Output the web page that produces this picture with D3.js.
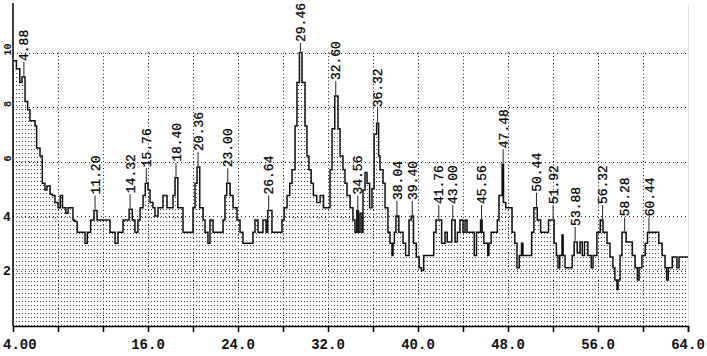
<!DOCTYPE html>
<html>
<head>
<meta charset="utf-8">
<script src="https://cdn.jsdelivr.net/npm/d3@7"></script>
<style>
  html, body { margin: 0; padding: 0; background: #fff; }
  svg { display: block; }
</style>
</head>
<body>
<svg id="chart" width="707" height="356"></svg>
<script>
// Diffractogram scan: [2-theta, intensity] steps
const scan = [
  [4.0, 9.7], [4.3, 9.4], [4.6, 8.9], [4.8, 9.1], [5.07, 8.2], [5.3, 7.9], [5.51, 7.5], [5.96, 7.3], [6.1, 6.5], [6.4, 6.2],
  [6.6, 5.2], [6.84, 4.95], [7.02, 5.1], [7.3, 4.8], [7.5, 4.75], [7.73, 4.5], [8.0, 4.3], [8.2, 4.75], [8.4, 4.3], [8.7, 4.1],
  [8.9, 4.3], [9.33, 3.85], [9.5, 3.8], [9.7, 3.4], [10.4, 3.0], [10.6, 3.4], [10.9, 3.85], [11.2, 4.2], [11.47, 3.85], [12.62, 3.4],
  [13.07, 3.0], [13.33, 3.4], [13.78, 3.85], [14.32, 4.25], [14.6, 3.85], [14.84, 3.4], [15.1, 3.85], [15.3, 4.3], [15.56, 4.75], [15.76, 5.2],
  [16.0, 4.95], [16.18, 4.5], [16.44, 4.3], [16.62, 4.0], [16.89, 4.3], [17.33, 4.75], [17.69, 4.3], [18.22, 4.75], [18.4, 5.4], [18.65, 4.3],
  [19.11, 3.4], [20.0, 4.3], [20.18, 5.2], [20.36, 5.8], [20.6, 4.3], [20.9, 3.85], [21.07, 3.4], [21.33, 3.0], [21.51, 3.85], [21.78, 3.4],
  [22.67, 3.85], [22.84, 4.75], [23.0, 5.2], [23.3, 4.75], [23.56, 4.3], [23.91, 3.85], [24.18, 3.4], [24.44, 3.0], [25.33, 3.4], [25.51, 3.85],
  [25.78, 3.4], [26.22, 3.85], [26.5, 3.4], [26.64, 4.2], [27.02, 3.4], [27.91, 3.85], [28.1, 4.3], [28.36, 4.75], [28.6, 5.2], [28.8, 5.7],
  [29.07, 7.3], [29.24, 8.9], [29.46, 10.0], [29.69, 8.9], [29.96, 7.3], [30.13, 6.2], [30.3, 5.7], [30.5, 5.2], [30.7, 4.75], [31.0, 4.5],
  [31.3, 4.75], [31.6, 4.3], [32.18, 5.7], [32.36, 7.2], [32.6, 8.4], [32.89, 7.2], [33.07, 6.2], [33.33, 5.7], [33.51, 5.2], [33.69, 4.75],
  [33.96, 4.3], [34.22, 3.85], [34.4, 3.4], [34.56, 4.2], [34.7, 3.4], [34.85, 4.1], [35.02, 3.4], [35.11, 4.95], [35.29, 5.6], [35.47, 5.2],
  [35.7, 4.3], [35.91, 5.0], [36.1, 7.0], [36.32, 7.4], [36.5, 6.2], [36.62, 5.7], [36.89, 5.2], [37.07, 4.3], [37.33, 3.4], [37.51, 3.0],
  [37.69, 2.55], [37.78, 3.0], [37.9, 3.4], [38.04, 4.0], [38.3, 3.4], [38.67, 3.0], [38.9, 2.55], [39.2, 3.85], [39.4, 4.0], [39.6, 3.0],
  [39.85, 2.5], [40.1, 2.1], [40.3, 2.0], [40.5, 2.55], [41.4, 3.4], [41.6, 3.85], [42.1, 3.0], [42.4, 3.4], [42.6, 3.05], [43.0, 3.85],
  [43.3, 3.05], [43.5, 3.4], [43.73, 3.85], [44.0, 3.4], [44.18, 3.85], [44.36, 3.4], [45.0, 2.55], [45.2, 3.4], [45.56, 3.85], [45.7, 3.4],
  [45.85, 3.0], [46.2, 2.55], [46.3, 3.0], [46.5, 3.4], [47.05, 3.85], [47.2, 4.75], [47.48, 5.9], [47.6, 4.5], [47.8, 4.3], [48.36, 3.4],
  [48.6, 3.0], [48.8, 2.1], [49.0, 2.55], [49.2, 3.0], [49.33, 2.55], [50.1, 3.4], [50.3, 4.3], [50.6, 3.85], [50.9, 3.4], [51.6, 3.85],
  [52.1, 3.0], [52.3, 2.55], [52.44, 2.1], [52.6, 2.55], [52.8, 3.3], [52.9, 2.55], [53.07, 2.1], [53.7, 2.55], [53.88, 3.05], [54.15, 2.65],
  [54.4, 3.05], [54.6, 2.55], [54.8, 3.05], [55.1, 2.55], [55.4, 2.1], [55.56, 2.55], [55.9, 3.4], [56.2, 3.85], [56.44, 3.4], [56.8, 3.0],
  [57.07, 2.5], [57.33, 2.1], [57.5, 1.65], [57.69, 1.3], [57.78, 1.65], [57.96, 2.55], [58.13, 3.4], [58.5, 3.05], [59.05, 2.55], [59.3, 2.1],
  [59.5, 1.65], [59.65, 2.1], [59.9, 2.55], [60.2, 3.0], [60.4, 3.4], [61.4, 3.0], [61.7, 2.55], [61.96, 2.1], [62.1, 1.65], [62.25, 2.1],
  [62.6, 2.5], [63.02, 2.1], [63.2, 2.5], [64.0, 2.5]
];

// Labelled reflections (2-theta)
const peakAngles = [4.88, 11.20, 14.32, 15.76, 18.40, 20.36, 23.00, 26.64, 29.46, 32.60, 34.56, 36.32,
                    38.04, 39.40, 41.76, 43.00, 45.56, 47.48, 50.44, 51.92, 53.88, 56.32, 58.28, 60.44];

// Axis ticks
const xTickValues = [8, 12, 16, 20, 24, 28, 32, 36, 40, 44, 48, 52, 56, 60, 64];
const xLabelValues = [4, 16, 24, 32, 40, 48, 56, 64];
const xLabelTexts = ["4.00", "16.0", "24.0", "32.0", "40.0", "48.0", "56.0", "64.0"];
const yTickValues = [2, 4, 6, 8, 10];
const yTickLabels = ["2", "4", "6", "8", "10"];

const svg = d3.select("#chart");
const mono = "'Liberation Mono', 'DejaVu Sans Mono', monospace";

const x = d3.scaleLinear().domain([4, 64]).range([13, 688]);
const y = d3.scaleLinear().domain([0, 10]).range([325, 52.5]);
const baseY = 326;

// dot fill pattern under the trace
const defs = svg.append("defs");
defs.append("pattern")
  .attr("id", "dots").attr("patternUnits", "userSpaceOnUse")
  .attr("width", 3).attr("height", 4)
  .append("rect").attr("x", 1).attr("y", 1).attr("width", 1).attr("height", 1)
  .attr("fill", "#444");

// grid
const grid = svg.append("g");
grid.selectAll("line.h").data(yTickValues).join("line")
  .attr("x1", x(4)).attr("x2", x(64))
  .attr("y1", d => Math.round(y(d)) + 0.5).attr("y2", d => Math.round(y(d)) + 0.5)
  .attr("stroke", "#222").attr("stroke-width", 1).attr("stroke-dasharray", "1,3");
grid.selectAll("line.v").data(xTickValues.filter(v => v < 64)).join("line")
  .attr("x1", d => Math.round(x(d)) + 0.5).attr("x2", d => Math.round(x(d)) + 0.5)
  .attr("y1", y(10)).attr("y2", baseY)
  .attr("stroke", "#222").attr("stroke-width", 1).attr("stroke-dasharray", "1,2.5");

// right frame edge
svg.append("line")
  .attr("x1", x(64) + 0.5).attr("x2", x(64) + 0.5).attr("y1", 5).attr("y2", baseY)
  .attr("stroke", "#ddd").attr("stroke-width", 1);

// filled region under the trace
const area = d3.area()
  .x(d => x(d[0])).y0(baseY).y1(d => y(d[1]))
  .curve(d3.curveStepAfter);
svg.append("path").datum(scan)
  .attr("d", area).attr("fill", "url(#dots)");

// the trace
const line = d3.line()
  .x(d => x(d[0])).y(d => y(d[1]))
  .curve(d3.curveStepAfter);
svg.append("path").datum(scan)
  .attr("d", line).attr("fill", "none")
  .attr("stroke", "#111").attr("stroke-width", 1.5);

// peak annotations
const bis = d3.bisector(d => d[0]).right;
const charW = 7.8;
const pk = svg.append("g");
peakAngles.forEach(a => {
  const i = Math.max(0, bis(scan, a + 1e-9) - 1);
  const v = scan[i][1];
  const px = x(a) + 1;
  const py = y(v);
  const txt = a.toFixed(2);
  const len = txt.length * charW;
  let start = py - 16;
  if (start - len < 3) start = 3 + len;
  pk.append("line")
    .attr("x1", px).attr("x2", px).attr("y1", py - 1).attr("y2", start + 1)
    .attr("stroke", "#222").attr("stroke-width", 1);
  pk.append("text")
    .attr("transform", `translate(${px},${start}) rotate(-90)`)
    .attr("dy", "0.35em")
    .attr("text-anchor", "start")
    .attr("font-family", mono).attr("font-size", 13)
    .attr("fill", "#000")
    .attr("stroke", "#000").attr("stroke-width", 0.25)
    .text(txt);
});

// x axis
const xAxis = d3.axisBottom(x)
  .tickValues(xTickValues)
  .tickSize(6)
  .tickFormat("");
const gx = svg.append("g").attr("transform", `translate(0,${baseY})`).call(xAxis);
gx.select(".domain").attr("stroke", "#000").attr("stroke-width", 1.5);
gx.selectAll(".tick line").attr("stroke", "#000").attr("stroke-width", 1.5);

svg.append("g").selectAll("text").data(xLabelValues).join("text")
  .attr("x", (d, i) => i === 0 ? 3 : x(d))
  .attr("y", 349)
  .attr("text-anchor", (d, i) => i === 0 ? "start" : "middle")
  .attr("font-family", mono).attr("font-size", 14).attr("font-weight", "bold")
  .attr("fill", "#111")
  .text((d, i) => xLabelTexts[i]);

// y axis
svg.append("line")
  .attr("x1", 13).attr("x2", 13).attr("y1", 3).attr("y2", baseY)
  .attr("stroke", "#000").attr("stroke-width", 1.5);

svg.append("g").selectAll("text").data(yTickValues).join("text")
  .attr("transform", d => d >= 6 ? `translate(7,${y(d) - 3}) rotate(-90)` : `translate(7,${y(d)})`)
  .attr("dy", "0.35em")
  .attr("text-anchor", "middle")
  .attr("font-family", mono).attr("font-weight", "bold")
  .attr("font-size", d => d >= 6 ? 10 : 13)
  .attr("fill", "#111")
  .text((d, i) => yTickLabels[i]);
</script>
</body>
</html>
